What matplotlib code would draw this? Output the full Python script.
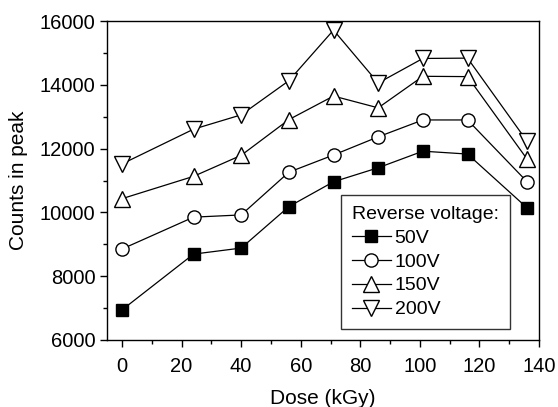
import matplotlib.pyplot as plt
from matplotlib.ticker import MultipleLocator

plt.rcParams['font.family'] = ['Liberation Sans', 'DejaVu Sans']

dose = [0, 24, 40, 56, 71, 86, 101, 116, 136]
v50 = [6940, 8690, 8880, 10180, 10960, 11400, 11920, 11830, 10140]
v100 = [8850, 9850, 9920, 11260, 11800, 12370, 12900, 12900, 10960]
v150 = [10430, 11130, 11790, 12910, 13650, 13280, 14270, 14260, 11670]
v200 = [11520, 12610, 13060, 14130, 15720, 14060, 14830, 14840, 12230]
labels = ['50V', '100V', '150V', '200V']

fig = plt.figure(figsize=(5.58, 4.07), dpi=100)
ax = fig.add_axes([0.192, 0.165, 0.774, 0.783])

ax.plot(dose, v50, '-s', color='black', lw=0.9, ms=8, mfc='black', label=labels[0])
ax.plot(dose, v100, '-o', color='black', lw=0.9, ms=9.5, mfc='white', label=labels[1])
ax.plot(dose, v150, '-^', color='black', lw=0.9, ms=11, mfc='white', label=labels[2])
ax.plot(dose, v200, '-v', color='black', lw=0.9, ms=11, mfc='white', label=labels[3])

ax.set_xlim(-5, 140)
ax.set_ylim(6000, 16000)
ax.xaxis.set_major_locator(MultipleLocator(20))
ax.xaxis.set_minor_locator(MultipleLocator(10))
ax.yaxis.set_major_locator(MultipleLocator(2000))
ax.yaxis.set_minor_locator(MultipleLocator(1000))
ax.tick_params(which='both', direction='out', labelsize=14.5, width=1)
ax.tick_params(which='major', length=5)
ax.tick_params(which='minor', length=3)
ax.tick_params(axis='x', pad=7)
for s in ax.spines.values():
    s.set_linewidth(1)

ax.set_xlabel('Dose (kGy)', fontsize=15, labelpad=10)
ax.set_ylabel('Counts in peak', fontsize=15, labelpad=8)

leg = ax.legend(title='Reverse voltage:', loc='lower left', bbox_to_anchor=(0.542, 0.034),
                fontsize=14, title_fontsize=14, frameon=True, fancybox=False,
                edgecolor='black', handlelength=2, handletextpad=0.2, labelspacing=0.32,
                borderpad=0.55, borderaxespad=0)
leg._legend_box.align = 'left'
leg.get_frame().set_linewidth(1)

fig.savefig('out.png', dpi=100)
